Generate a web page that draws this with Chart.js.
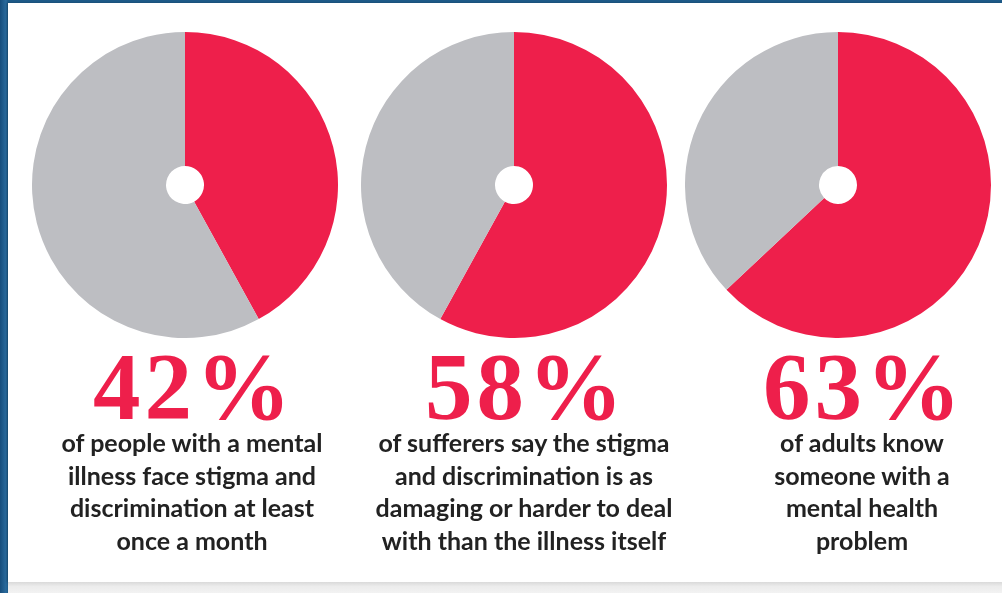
<!DOCTYPE html>
<html>
<head>
<meta charset="utf-8">
<script src="https://cdn.jsdelivr.net/npm/chart.js@4.4.1/dist/chart.umd.min.js"></script>
<style>
  html, body { margin: 0; padding: 0; }
  body { width: 1002px; height: 593px; position: relative; overflow: hidden;
         background: linear-gradient(90deg, #174e7c 0px, #2a6a9c 6px, #1d5a88 8px); }
  #panel { position: absolute; left: 8px; top: 3px; width: 994px; height: 579px; background: #fff;
           box-shadow: -1px 0 2px rgba(0,0,0,0.25); }
  #foot { position: absolute; left: 8px; top: 582px; width: 994px; height: 11px;
          background: linear-gradient(#d9d9d9, #ececec 40%, #f2f2f2); }
  canvas.pie { position: absolute; }
  .pct { position: absolute; width: 300px; text-align: center; color: #ee1f4b;
         font-family: "Liberation Serif", serif; font-weight: bold; font-size: 95px; line-height: 95px;
         letter-spacing: 4px; }
  .cap { position: absolute; width: 330px; text-align: center; color: #222;
         font-family: "Lato", sans-serif; font-weight: bold; font-size: 25px; line-height: 32.5px; }
</style>
</head>
<body>
<div id="panel"></div>
<div id="foot"></div>
<script>
const values = [42, 58, 63];
const percentLabels = ["42%", "58%", "63%"];
const captions = [
  ["of people with a mental", "illness face stigma and", "discrimination at least", "once a month"],
  ["of sufferers say the stigma", "and discrimination is as", "damaging or harder to deal", "with than the illness itself"],
  ["of adults know", "someone with a", "mental health", "problem"]
];
const sliceColors = ["#ee1f4b", "#bdbec2"];

// pie centres and text centres across the page
const pieX = [185, 514, 838];
const textX = [192, 524, 862];
const pieY = 185;
const R = 153;

values.forEach((v, i) => {
  const c = document.createElement("canvas");
  c.className = "pie";
  c.width = R * 2; c.height = R * 2;
  c.style.left = (pieX[i] - R) + "px";
  c.style.top = (pieY - R) + "px";
  c.style.width = R * 2 + "px"; c.style.height = R * 2 + "px";
  document.body.appendChild(c);

  new Chart(c, {
    type: "doughnut",
    data: {
      labels: ["yes", "no"],
      datasets: [{
        data: [v, 100 - v],
        backgroundColor: sliceColors,
        borderWidth: 0
      }]
    },
    options: {
      responsive: false,
      animation: false,
      cutout: 19,
      layout: { padding: 0 },
      plugins: { legend: { display: false }, tooltip: { enabled: false } }
    }
  });

  const p = document.createElement("div");
  p.className = "pct";
  p.textContent = percentLabels[i];
  p.style.left = (textX[i] - 148) + "px";
  p.style.top = "340px";
  document.body.appendChild(p);

  const t = document.createElement("div");
  t.className = "cap";
  t.innerHTML = captions[i].join("<br>");
  t.style.left = (textX[i] - 165) + "px";
  t.style.top = "426px";
  document.body.appendChild(t);
});
</script>
</body>
</html>
